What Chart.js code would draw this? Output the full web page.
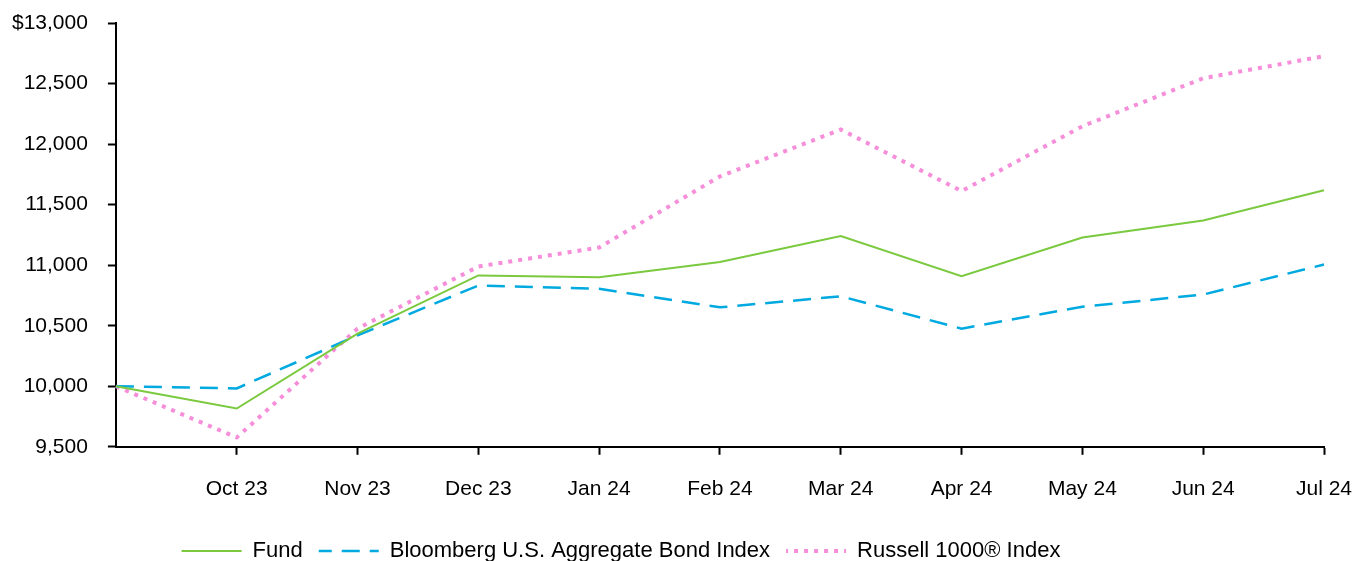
<!DOCTYPE html>
<html>
<head>
<meta charset="utf-8">
<script src="https://cdn.jsdelivr.net/npm/chart.js@4.4.1/dist/chart.umd.min.js"></script>
<style>
  html, body { margin: 0; padding: 0; background: #fff; overflow: hidden; }
  #wrap { width: 1354px; height: 572px; }
</style>
</head>
<body>
<div id="wrap"><canvas id="growthChart" width="1354" height="572"></canvas></div>
<script>
// month labels (first point is the starting value, no label)
let months = ['', 'Oct 23', 'Nov 23', 'Dec 23', 'Jan 24', 'Feb 24', 'Mar 24', 'Apr 24', 'May 24', 'Jun 24', 'Jul 24'];

// values
let fund    = [10000, 9816, 10435, 10915, 10900, 11027, 11240, 10908, 11228, 11369, 11618];
let bond    = [10000, 9982, 10420, 10832, 10805, 10652, 10743, 10476, 10657, 10757, 11005];
let russell = [10000, 9577, 10476, 10989, 11146, 11733, 12120, 11612, 12147, 12544, 12726];

let yTicks = [9500, 10000, 10500, 11000, 11500, 12000, 12500, 13000];

const fontFam = "'Liberation Sans', Arial, sans-serif";
const legendW = 60;

const data = {
    labels: months,
    datasets: [
        {
            label: 'Fund',
            data: fund,
            borderColor: 'rgb(122, 201, 62)',
            backgroundColor: 'rgb(122, 201, 62)',
            borderWidth: 2,
            fill: false,
            tension: 0
        },
        {
            label: 'Bloomberg U.S. Aggregate Bond Index',
            data: bond,
            borderColor: 'rgb(0, 169, 224)',
            backgroundColor: 'rgb(0, 169, 224)',
            borderWidth: 2.5,
            borderDash: [18, 10],
            fill: false,
            tension: 0
        },
        {
            label: 'Russell 1000® Index',
            data: russell,
            borderColor: 'rgb(246, 142, 217)',
            backgroundColor: 'rgb(246, 142, 217)',
            borderWidth: 4,
            borderDash: [4, 6],
            fill: false,
            tension: 0
        }
    ]
};

// legend box is a zero-height rect, stroked out and back; shift the dash phase
// so both passes land on the same dashes
function legendLabels(chart) {
    let items = Chart.defaults.plugins.legend.labels.generateLabels(chart);
    items.forEach(function(it) {
        let dash = it.lineDash || [];
        if (dash.length) {
            let P = dash[0] + dash[1];
            it.lineDashOffset = (((dash[0] - 2 * legendW) % P) + P) % P / 2;
        }
        it.fillStyle = 'rgba(0,0,0,0)';
    });
    return items;
}

// the legend in the original sits a bit left of centre
const legendShift = {
    id: 'legendShift',
    afterLayout(chart) {
        chart.legend.left -= 52;
        chart.legend.right -= 52;
    }
};

const config = {
    type: 'line',
    data: data,
    plugins: [legendShift],
    options: {
        responsive: false,
        animation: false,
        devicePixelRatio: 1,
        elements: { point: { radius: 0, hoverRadius: 0 } },
        layout: { padding: { left: -8, right: 0, top: 23, bottom: 0 } },
        plugins: {
            tooltip: { enabled: false },
            legend: {
                position: 'bottom',
                labels: {
                    boxWidth: legendW,
                    boxHeight: 0,
                    padding: 16,
                    color: '#000',
                    font: { family: fontFam, size: 22 },
                    generateLabels: legendLabels
                }
            }
        },
        scales: {
            x: {
                offset: false,
                afterFit: (s) => { s.paddingLeft = 0; s.paddingRight = 30; },
                grid: {
                    offset: false,
                    drawOnChartArea: false,
                    drawTicks: true,
                    tickLength: 8,
                    tickWidth: 2,
                    tickColor: (ctx) => ctx.index === 0 ? 'rgba(0,0,0,0)' : '#000'
                },
                border: { color: '#000', width: 2 },
                ticks: {
                    color: '#000',
                    padding: 22,
                    maxRotation: 0,
                    autoSkip: false,
                    font: { family: fontFam, size: 21 }
                }
            },
            y: {
                min: 9500,
                max: 13000,
                afterBuildTicks: (axis) => { axis.ticks = yTicks.map(v => ({ value: v })); },
                afterFit: (s) => { s.paddingTop = 0; s.paddingBottom = 0; },
                grid: {
                    drawOnChartArea: false,
                    drawTicks: true,
                    tickLength: 8,
                    tickWidth: 2,
                    tickColor: '#000'
                },
                border: { color: '#000', width: 2 },
                ticks: {
                    color: '#000',
                    padding: 20,
                    font: { family: fontFam, size: 21 },
                    callback: function(value) {
                        let s = Number(value).toLocaleString('en-US');
                        return value === 13000 ? '$' + s : s;
                    }
                }
            }
        }
    }
};

const ctx = document.getElementById('growthChart');
const myChart = new Chart(ctx, config);
</script>
</body>
</html>
